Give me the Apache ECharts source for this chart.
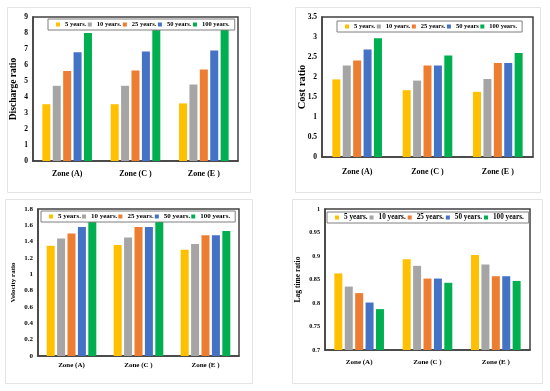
<!DOCTYPE html>
<html>
<head>
<meta charset="utf-8">
<script src="https://cdn.jsdelivr.net/npm/echarts@6/dist/echarts.min.js"></script>
<style>html,body{margin:0;padding:0;background:#fff;}#c{width:550px;height:391px;}</style>
</head>
<body>
<div id="c"></div>
<script>
// ---- data ----
const categories = ['Zone (A)', 'Zone (C )', 'Zone (E )'];
const periodNames = ['5 years.', '10 years.', '25 years.', '50 years.', '100 years.'];
const periodNamesCost = ['5 years.', '10 years.', '25 years.', '50 years', '100 years.'];

const discharge_5yr = [3.55, 3.55, 3.6];
const discharge_10yr = [4.7, 4.7, 4.78];
const discharge_25yr = [5.62, 5.65, 5.72];
const discharge_50yr = [6.8, 6.85, 6.9];
const discharge_100yr = [8.0, 8.3, 8.3];

const cost_5yr = [1.94, 1.67, 1.63];
const cost_10yr = [2.29, 1.91, 1.95];
const cost_25yr = [2.41, 2.29, 2.35];
const cost_50yr = [2.69, 2.29, 2.35];
const cost_100yr = [2.97, 2.54, 2.6];

const velocity_5yr = [1.35, 1.36, 1.3];
const velocity_10yr = [1.44, 1.45, 1.37];
const velocity_25yr = [1.5, 1.58, 1.48];
const velocity_50yr = [1.58, 1.58, 1.48];
const velocity_100yr = [1.64, 1.65, 1.53];

const lag_5yr = [0.863, 0.893, 0.902];
const lag_10yr = [0.835, 0.879, 0.882];
const lag_25yr = [0.821, 0.852, 0.857];
const lag_50yr = [0.801, 0.852, 0.857];
const lag_100yr = [0.787, 0.843, 0.847];

const yTitles = ['Discharge ratio', 'Cost ratio', 'Velocity ratio', 'Lag time ratio'];
// ---- styling ----
const colors = ['#FFC000', '#A5A5A5', '#ED7D31', '#4472C4', '#00B050'];
const FONT = 'Liberation Serif';

const panels = [
  { names: periodNames, data: [discharge_5yr, discharge_10yr, discharge_25yr, discharge_50yr, discharge_100yr],
    grid: {left: 33, top: 17, width: 205, height: 144}, y: {min: 0, max: 9, interval: 1},
    legend: {left: 48, top: 19, fs: 6.5, gap: 1.5}, box: [7, 7, 243, 185],
    tickFs: 7.5, catFs: 8, catMargin: 9, nameFs: 9.5, nameGap: 14 },
  { names: periodNamesCost, data: [cost_5yr, cost_10yr, cost_25yr, cost_50yr, cost_100yr],
    grid: {left: 322, top: 17, width: 211, height: 140}, y: {min: 0, max: 3.5, interval: 0.5},
    legend: {left: 337, top: 21, fs: 6.5, gap: 1.5}, box: [295, 7, 245, 185],
    tickFs: 7.5, catFs: 8, catMargin: 11, nameFs: 10.5, nameGap: 14 },
  { names: periodNames, data: [velocity_5yr, velocity_10yr, velocity_25yr, velocity_50yr, velocity_100yr],
    grid: {left: 38, top: 209, width: 201, height: 147}, y: {min: 0, max: 1.8, interval: 0.2},
    legend: {left: 41, top: 211, fs: 7, gap: 1}, box: [5, 199, 247, 184],
    tickFs: 7, catFs: 7, catMargin: 6, nameFs: 7, nameGap: 21 },
  { names: periodNames, data: [lag_5yr, lag_10yr, lag_25yr, lag_50yr, lag_100yr],
    grid: {left: 325, top: 209, width: 205, height: 141}, y: {min: 0.7, max: 1, interval: 0.05},
    legend: {left: 327, top: 212, fs: 7.2, gap: 2}, box: [292, 199, 250, 184],
    tickFs: 6.2, catFs: 7, catMargin: 9, nameFs: 7.5, nameGap: 23 }
];

const option = {
  backgroundColor: '#fff',
  animation: false,
  grid: [], xAxis: [], yAxis: [], legend: [], series: [], graphic: []
};

panels.forEach((p, i) => {
  option.graphic.push({ type: 'rect', silent: true, z: 0,
    shape: {x: p.box[0] + 0.5, y: p.box[1] + 0.5, width: p.box[2], height: p.box[3]},
    style: {fill: 'none', stroke: '#e4e4e4', lineWidth: 1} });
  option.grid.push(Object.assign({ show: true, borderColor: '#404040', borderWidth: 1.5, backgroundColor: 'transparent', containLabel: false }, p.grid));
  option.xAxis.push({
    type: 'category', gridIndex: i, data: categories,
    axisLine: {show: true, lineStyle: {color: '#404040', width: 1.5}},
    axisTick: {show: false},
    axisLabel: {fontFamily: FONT, fontWeight: 'bold', fontSize: p.catFs, color: '#000', margin: p.catMargin}
  });
  option.yAxis.push({
    type: 'value', gridIndex: i, min: p.y.min, max: p.y.max, interval: p.y.interval,
    name: yTitles[i], nameLocation: 'middle', nameGap: p.nameGap, nameMoveOverlap: false,
    nameTextStyle: {fontFamily: FONT, fontWeight: 'bold', fontSize: p.nameFs, color: '#000'},
    axisLine: {show: true, lineStyle: {color: '#404040', width: 1.5}},
    axisTick: {show: false},
    splitLine: {show: false},
    axisLabel: {fontFamily: FONT, fontWeight: 'bold', fontSize: p.tickFs, color: '#000', margin: 5}
  });
  option.legend.push({
    left: p.legend.left, top: p.legend.top, orient: 'horizontal',
    data: p.names.map((n, k) => ({name: n, itemStyle: {color: colors[k]}})),
    icon: 'rect', itemWidth: 4, itemHeight: 4, itemGap: p.legend.gap,
    padding: [2, 5, 2, 8],
    backgroundColor: '#fff', borderColor: '#7f7f7f', borderWidth: 1,
    selectedMode: false,
    textStyle: {fontFamily: FONT, fontWeight: 'bold', fontSize: p.legend.fs, color: '#000'},
    z: 10
  });
  p.data.forEach((arr, k) => {
    option.series.push({
      type: 'bar', name: p.names[k], xAxisIndex: i, yAxisIndex: i,
      data: arr, barWidth: 8, barGap: '30%',
      itemStyle: {color: colors[k]}
    });
  });
});

const chart = echarts.init(document.getElementById('c'), null, {renderer: 'canvas'});
chart.setOption(option);
</script>
</body>
</html>
